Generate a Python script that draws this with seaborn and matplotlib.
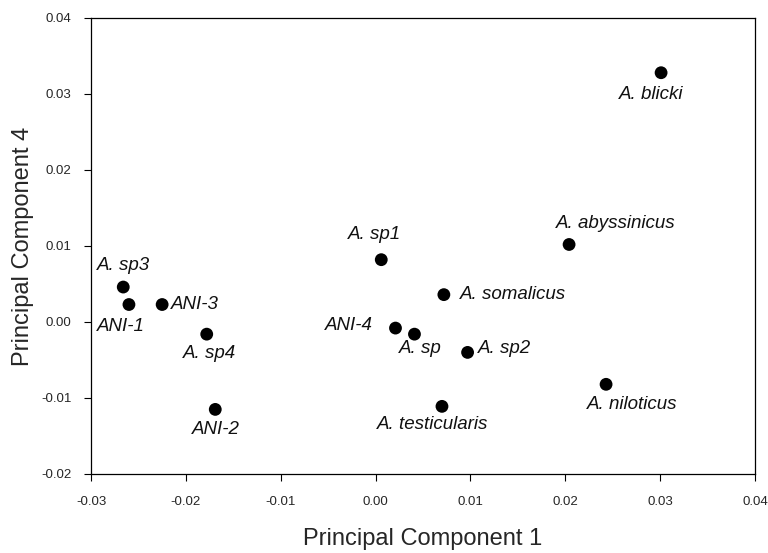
import matplotlib
matplotlib.use("Agg")
import matplotlib.pyplot as plt
import seaborn as sns
import pandas as pd

# ---- data ----
taxa = ["A. blicki", "A. abyssinicus", "A. sp1", "A. somalicus", "ANI-4", "A. sp",
        "A. sp2", "A. testicularis", "A. niloticus", "A. sp3", "ANI-1", "ANI-3",
        "A. sp4", "ANI-2"]
pc1 = [0.0301, 0.0204, 0.0006, 0.0072, 0.0021, 0.0041,
       0.0097, 0.0070, 0.0243, -0.0266, -0.0260, -0.0225,
       -0.0178, -0.0169]
pc4 = [0.0328, 0.0102, 0.0082, 0.0036, -0.0008, -0.0016,
       -0.0040, -0.0111, -0.0082, 0.0046, 0.0023, 0.0023,
       -0.0016, -0.0115]
x_ticks = [-0.03, -0.02, -0.01, 0.00, 0.01, 0.02, 0.03, 0.04]
y_ticks = [-0.02, -0.01, 0.00, 0.01, 0.02, 0.03, 0.04]

# label placement (pixel offsets from dot, screen y down) and alignment
label_style = {
    "A. blicki": (-10, 22, "center"),
    "A. abyssinicus": (47, -21, "center"),
    "A. sp1": (-7, -25, "center"),
    "A. somalicus": (16, 0, "left"),
    "ANI-4": (-23, -3, "right"),
    "A. sp": (6, 14, "center"),
    "A. sp2": (10, -4, "left"),
    "A. testicularis": (-9, 18, "center"),
    "A. niloticus": (26, 20, "center"),
    "A. sp3": (0, -22, "center"),
    "ANI-1": (-8, 22, "center"),
    "ANI-3": (9, 0, "left"),
    "A. sp4": (3, 19, "center"),
    "ANI-2": (1, 20, "center"),
}

df = pd.DataFrame({"taxon": taxa, "PC1": pc1, "PC4": pc4})

sns.set_style("white")
plt.rcParams["font.family"] = ["Liberation Sans", "DejaVu Sans"]

fig = plt.figure(figsize=(7.68, 5.53), dpi=100)
ax = fig.add_axes([91 / 768, 1 - 474 / 553, (755 - 91) / 768, (474 - 18) / 553])

sns.scatterplot(data=df, x="PC1", y="PC4", ax=ax, color="black",
                s=85, edgecolor="none", linewidth=0, legend=False)

for name, x, y in zip(taxa, pc1, pc4):
    dx, dy, ha = label_style[name]
    ax.annotate(name, (x, y), xytext=(dx, -dy), textcoords="offset pixels",
                ha=ha, va="center", fontsize=13.5, fontstyle="italic", color="#111111")

ax.set_xlim(-0.03, 0.04)
ax.set_ylim(-0.02, 0.04)
ax.set_xticks(x_ticks)
ax.set_yticks(y_ticks)
ax.set_xticklabels([f"{v:.2f}" for v in x_ticks], fontsize=9.5)
ax.set_yticklabels([f"{v:.2f}" for v in y_ticks], fontsize=9.5)
ax.tick_params(axis="both", direction="out", length=5, width=0.8, color="black",
               bottom=True, left=True)
ax.tick_params(axis="y", pad=9)
ax.tick_params(axis="x", pad=11)
for sp in ax.spines.values():
    sp.set_color("black")
    sp.set_linewidth(0.9)

ax.set_xlabel("Principal Component 1", fontsize=17, labelpad=14)
ax.set_ylabel("Principal Component 4", fontsize=17, labelpad=5)

fig.savefig("out.png", dpi=100, facecolor="white")
